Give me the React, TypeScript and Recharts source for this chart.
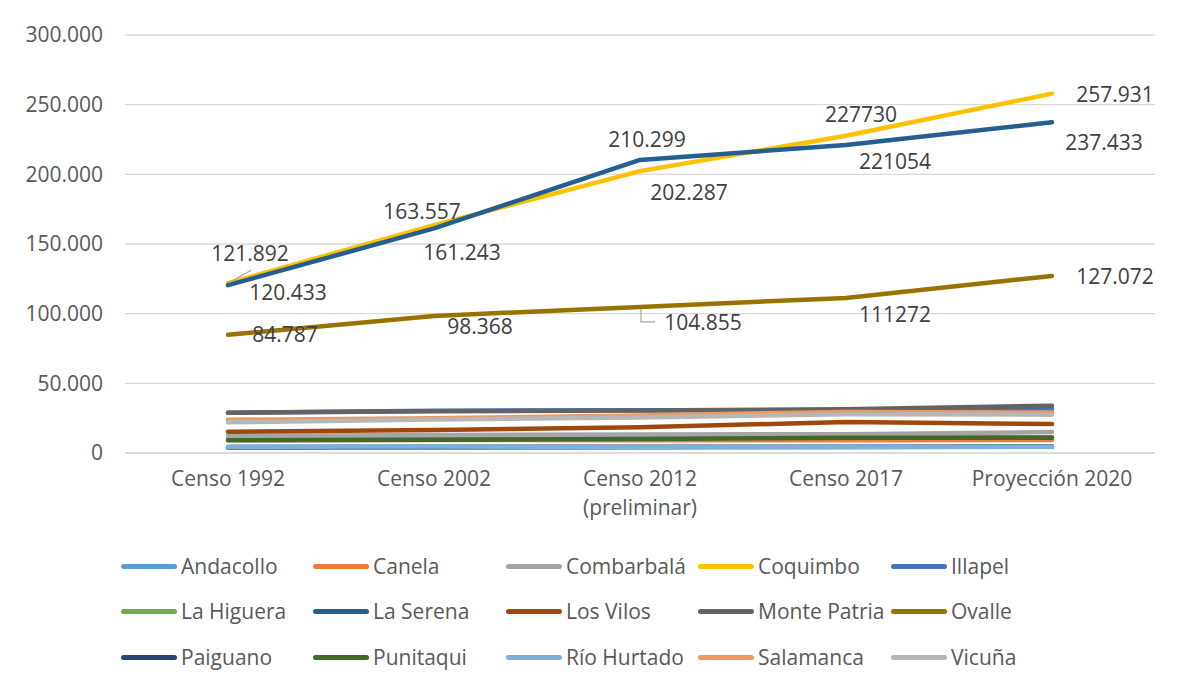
import { CartesianGrid, LabelList, Legend, Line, LineChart, XAxis, YAxis } from "recharts";

const categories = ["Censo 1992", "Censo 2002", "Censo 2012\n(preliminar)", "Censo 2017", "Proyección 2020"];

const andacollo = [10300, 10300, 10800, 11000, 11300];
const canela = [9300, 9400, 9100, 9100, 9300];
const combarbala = [12300, 13000, 13300, 13500, 15000];
const coquimbo = [121892, 163557, 202287, 227730, 257931];
const illapel = [28800, 30300, 30700, 30800, 31500];
const laHiguera = [3700, 3700, 4000, 4200, 4500];
const laSerena = [120433, 161243, 210299, 221054, 237433];
const losVilos = [15300, 16500, 18400, 22300, 20800];
const montePatria = [28900, 30000, 30500, 31400, 34000];
const ovalle = [84787, 98368, 104855, 111272, 127072];
const paiguano = [4300, 4400, 4500, 4500, 4700];
const punitaqui = [9100, 9500, 10000, 10900, 11000];
const rioHurtado = [4500, 4700, 4300, 4400, 4500];
const salamanca = [23800, 25000, 27000, 29500, 29000];
const vicuna = [22000, 24000, 25500, 27800, 27500];

const coquimboLabels = ["121.892", "163.557", "202.287", "227730", "257.931"];
const laSerenaLabels = ["120.433", "161.243", "210.299", "221054", "237.433"];
const ovalleLabels = ["84.787", "98.368", "104.855", "111272", "127.072"];

const yTicks = [0, 50000, 100000, 150000, 200000, 250000, 300000];

const series = [
  { key: "Andacollo", values: andacollo, color: "#5B9BD5" },
  { key: "Canela", values: canela, color: "#ED7D31" },
  { key: "Combarbalá", values: combarbala, color: "#A5A5A5" },
  { key: "Coquimbo", values: coquimbo, color: "#FFC000" },
  { key: "Illapel", values: illapel, color: "#4472C4" },
  { key: "La Higuera", values: laHiguera, color: "#70AD47" },
  { key: "La Serena", values: laSerena, color: "#255E91" },
  { key: "Los Vilos", values: losVilos, color: "#9E480E" },
  { key: "Monte Patria", values: montePatria, color: "#636363" },
  { key: "Ovalle", values: ovalle, color: "#997300" },
  { key: "Paiguano", values: paiguano, color: "#264478" },
  { key: "Punitaqui", values: punitaqui, color: "#43682B" },
  { key: "Río Hurtado", values: rioHurtado, color: "#7CAFDD" },
  { key: "Salamanca", values: salamanca, color: "#F1975A" },
  { key: "Vicuña", values: vicuna, color: "#B7B7B7" },
];

const rows = categories.map((c, i) => {
  const r: Record<string, string | number> = { name: c };
  series.forEach((s) => (r[s.key] = s.values[i]));
  return r;
});

// label placement (offset of text centre from the point)
const labelOffsets: Record<string, number[][]> = {
  Coquimbo: [[22, -30], [-12, -14], [49, 21], [15, -21], [63, 1]],
  "La Serena": [[60, 7], [28, 24], [7, -20], [49, 17], [52, 20]],
  Ovalle: [[57, 0], [46, 11], [63, 16], [49, 17], [63, 1]],
};
const labelTexts: Record<string, string[]> = {
  Coquimbo: coquimboLabels,
  "La Serena": laSerenaLabels,
  Ovalle: ovalleLabels,
};

const FONT = "'Open Sans', sans-serif";
const fmt = (v: number) => String(v).replace(/\B(?=(\d{3})+(?!\d))/g, ".");

function makeLabel(name: string) {
  return (p: any) => {
    const i = p.index;
    const [dx, dy] = labelOffsets[name][i];
    const x = Number(p.x);
    const y = Number(p.y);
    let leader = null;
    if (name === "Coquimbo" && i === 0)
      leader = <line x1={x + 2} y1={y - 1} x2={x + 23} y2={y - 13} stroke="#A6A6A6" strokeWidth={1.2} />;
    if (name === "Ovalle" && i === 2)
      leader = (
        <polyline points={`${x + 1},${y + 2} ${x + 1},${y + 15} ${x + 15},${y + 15}`} fill="none" stroke="#A6A6A6" strokeWidth={1.2} />
      );
    return (
      <g>
        {leader}
        <text x={x + dx} y={y + dy + 7.5} textAnchor="middle" fontFamily={FONT} fontSize={21} fill="#404040">
          {labelTexts[name][i]}
        </text>
      </g>
    );
  };
}

function CategoryTick({ x, y, payload }: any) {
  const lines = String(payload.value).split("\n");
  return (
    <text x={x} y={y} textAnchor="middle" fontFamily={FONT} fontSize={21} fill="#595959">
      {lines.map((l, k) => (
        <tspan key={k} x={x} dy={k === 0 ? 25 : 29}>
          {l}
        </tspan>
      ))}
    </text>
  );
}

const legendCols = [113, 305, 498, 690, 883];
const legendRows = [559, 604, 650];

function LegendGrid() {
  return (
    <div style={{ position: "relative", width: 1161, height: 679 }}>
      {series.map((s, i) => {
        const left = legendCols[i % 5];
        const top = legendRows[Math.floor(i / 5)];
        return (
          <div key={s.key} style={{ position: "absolute", left, top: top - 15, height: 30, display: "flex", alignItems: "center" }}>
            <span style={{ display: "inline-block", width: 56, height: 5, borderRadius: 3, background: s.color }} />
            <span style={{ marginLeft: 4, fontFamily: FONT, fontSize: 21, color: "#595959", whiteSpace: "nowrap" }}>{s.key}</span>
          </div>
        );
      })}
    </div>
  );
}

export default function App() {
  return (
    <div
      style={{
        position: "relative",
        width: 1163,
        height: 700,
        marginLeft: -1,
        marginTop: -2,
        border: "1px solid #D9D9D9",
        boxSizing: "border-box",
        background: "#fff",
      }}
    >
      <LineChart width={1161} height={679} data={rows} margin={{ top: 28, right: 14, left: 17, bottom: 153 }}>
        <CartesianGrid stroke="#D9D9D9" strokeWidth={1.3} vertical={false} />
        <XAxis
          dataKey="name"
          tick={<CategoryTick />}
          tickLine={false}
          axisLine={{ stroke: "#D9D9D9", strokeWidth: 1.3 }}
          interval={0}
          height={80}
          padding={{ left: 103, right: 103 }}
        />
        <YAxis
          domain={[0, 300000]}
          ticks={yTicks}
          tickFormatter={fmt}
          tick={{ fontFamily: FONT, fontSize: 21, fill: "#595959" }}
          tickLine={false}
          axisLine={false}
          tickMargin={16}
          width={100}
        />
        <Legend
          layout="horizontal"
          verticalAlign="middle"
          wrapperStyle={{ top: 0, left: 0, width: 1161, height: 679, pointerEvents: "none" }}
          content={() => <LegendGrid />}
        />
        {series.map((s) => (
          <Line
            key={s.key}
            type="linear"
            dataKey={s.key}
            stroke={s.color}
            strokeWidth={4.5}
            strokeLinecap="round"
            strokeLinejoin="round"
            dot={false}
            activeDot={false}
            isAnimationActive={false}
          >
            {labelTexts[s.key] && <LabelList dataKey={s.key} content={makeLabel(s.key)} />}
          </Line>
        ))}
      </LineChart>
    </div>
  );
}
